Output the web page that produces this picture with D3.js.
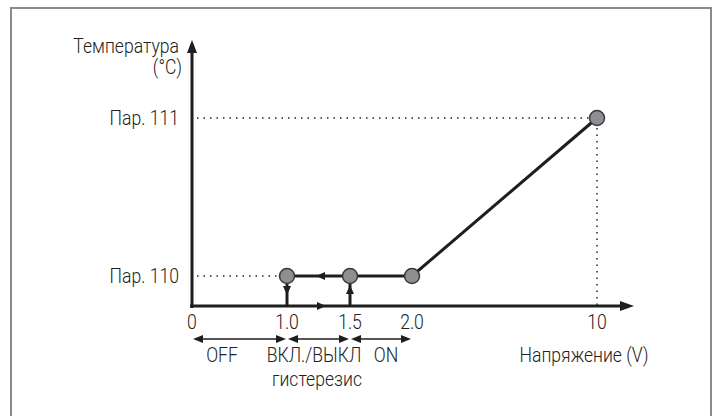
<!doctype html>
<html>
<head>
<style>
  body { margin: 0; background: #fff; }
  text { font-family: Roboto, "Liberation Sans", sans-serif; font-weight: 300; fill: #222; }
</style>
<script src="https://d3js.org/d3.v7.min.js"></script>
</head>
<body>
<svg width="718" height="416"></svg>
<script>
// data
var xTicks = [0, 1.0, 1.5, 2.0, 10];
var xTickLabels = ["0", "1.0", "1.5", "2.0", "10"];
var yLevels = ["Пар. 110", "Пар. 111"];
var points = [
  {v: 1.0, t: "Пар. 110"},
  {v: 1.5, t: "Пар. 110"},
  {v: 2.0, t: "Пар. 110"},
  {v: 10, t: "Пар. 111"}
];
var zones = [
  {from: 0, to: 1.0, label: "OFF"},
  {from: 1.0, to: 1.5, label: "ВКЛ./ВЫКЛ"},
  {from: 1.5, to: 2.0, label: "ON"}
];

var svg = d3.select("svg");
var SX = 0.88; // condensed look

// frame (no bottom edge)
svg.append("path")
   .attr("d", "M11,416 V8 H711 V416")
   .attr("fill", "none")
   .attr("stroke", "#8a8a8a")
   .attr("stroke-width", 2);

var x0 = 192, y0 = 306;
// axis is not to scale: piecewise
var x = d3.scaleLinear().domain(xTicks).range([192, 287, 350, 412, 597]);
var y = d3.scalePoint().domain(yLevels).range([276, 118]);

// arrowhead: tip at (tx,ty), pointing in direction angle (deg)
function head(tx, ty, ang, len, wid) {
  svg.append("path")
     .attr("d", "M0,0 L" + (-len) + "," + (-wid / 2) + " L" + (-len) + "," + (wid / 2) + " Z")
     .attr("transform", "translate(" + tx + "," + ty + ") rotate(" + ang + ")")
     .attr("fill", "#1e1e1e");
}

function label(tx, ty, txt, anchor, size) {
  return svg.append("text")
     .attr("transform", "translate(" + tx + "," + ty + ") scale(" + SX + ",1)")
     .attr("text-anchor", anchor)
     .attr("font-size", size || 20)
     .text(txt);
}

// dotted guides
var dot = svg.append("g")
   .attr("stroke", "#222")
   .attr("stroke-width", 1.5)
   .attr("stroke-dasharray", "1.5,5");
dot.append("line").attr("x1", x0 + 5).attr("x2", x(10)).attr("y1", y("Пар. 111")).attr("y2", y("Пар. 111"));
dot.append("line").attr("x1", x(10)).attr("x2", x(10)).attr("y1", y("Пар. 111") + 10).attr("y2", y0);
dot.append("line").attr("x1", x0 + 5).attr("x2", x(1.0)).attr("y1", y("Пар. 110")).attr("y2", y("Пар. 110"));

// axes
svg.append("line")
   .attr("x1", x0).attr("y1", y0 + 2).attr("x2", x0).attr("y2", 50)
   .attr("stroke", "#1e1e1e").attr("stroke-width", 3);
head(x0, 40, -90, 13, 10);
svg.append("line")
   .attr("x1", x0 - 2).attr("y1", y0).attr("x2", 622).attr("y2", y0)
   .attr("stroke", "#1e1e1e").attr("stroke-width", 3);
head(634, y0, 0, 14, 10);
// direction on x axis
head(326, y0, 0, 9, 8);

// characteristic line
var line = d3.line().x(function(d) { return x(d.v); }).y(function(d) { return y(d.t); });
svg.append("path")
   .datum(points)
   .attr("d", line)
   .attr("fill", "none").attr("stroke", "#1e1e1e").attr("stroke-width", 3);
head(316, y("Пар. 110"), 180, 9, 8);

// switching verticals
svg.append("line")
   .attr("x1", x(1.0)).attr("x2", x(1.0)).attr("y1", y("Пар. 110")).attr("y2", y0)
   .attr("stroke", "#1e1e1e").attr("stroke-width", 3);
head(x(1.0), 295, 90, 9, 8);
svg.append("line")
   .attr("x1", x(1.5)).attr("x2", x(1.5)).attr("y1", y0).attr("y2", y("Пар. 110"))
   .attr("stroke", "#1e1e1e").attr("stroke-width", 3);
head(x(1.5), 285, -90, 9, 8);

// points
svg.selectAll("circle.pt")
   .data(points)
   .enter().append("circle")
   .attr("class", "pt")
   .attr("cx", function(d) { return x(d.v); })
   .attr("cy", function(d) { return y(d.t); })
   .attr("r", 7.5)
   .attr("fill", "#8f8f93")
   .attr("stroke", "#3a3a3a")
   .attr("stroke-width", 1.5);

// x tick labels
xTicks.forEach(function(d, i) { label(x(d), 329, xTickLabels[i], "middle", 20); });

// y labels
yLevels.forEach(function(d) { label(179, y(d) + 7, d, "end", 20); });

label(179, 53, "Температура", "end", 20);
label(182, 74, "(°C)", "end", 20);
label(584, 362, "Напряжение (V)", "middle", 20);

// zone arrows
var zg = svg.append("g");
zg.selectAll("line")
  .data(zones)
  .enter().append("line")
  .attr("x1", function(d) { return x(d.from) + 4; })
  .attr("x2", function(d) { return x(d.to) - 4; })
  .attr("y1", 339).attr("y2", 339)
  .attr("stroke", "#1e1e1e").attr("stroke-width", 1.5);
zones.forEach(function(d) {
  head(x(d.from) + 1, 339, 180, 10, 8);
  head(x(d.to) - 1, 339, 0, 10, 8);
});
var zoneLabelX = [222, 314, 386];
zones.forEach(function(d, i) { label(zoneLabelX[i], 362, d.label, "middle", 20); });
label(317, 386, "гистерезис", "middle", 20);
</script>
</body>
</html>
